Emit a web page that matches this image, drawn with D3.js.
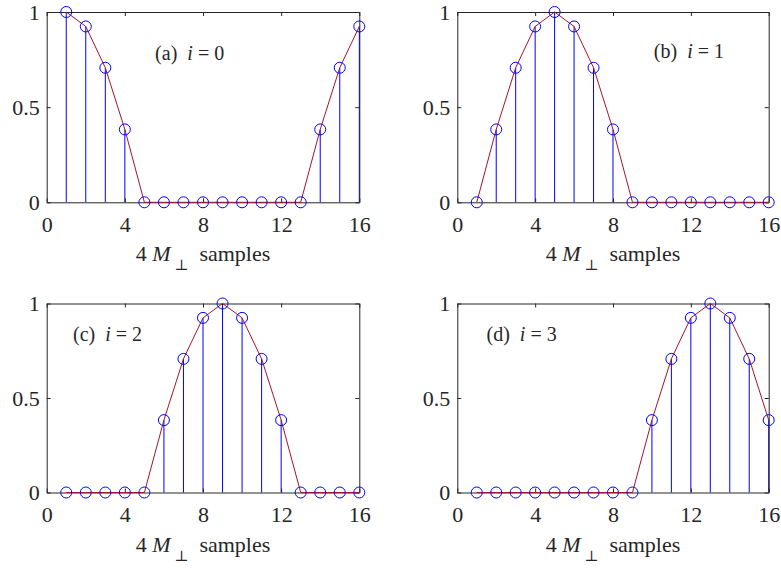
<!DOCTYPE html>
<html>
<head>
<meta charset="utf-8">
<script src="https://cdn.jsdelivr.net/npm/d3@7"></script>
<style>
  body { margin: 0; background: #fff; }
</style>
</head>
<body>
<div id="vis"></div>
<script>
const FRAME_WIDTH = 781;
const FRAME_HEIGHT = 568;
const FONT = "'Liberation Serif', LiberationSerif, Tinos, 'Times New Roman', 'Noto Serif', 'DejaVu Serif', serif";

// sample index (x) and the four window weights (one per panel)
const samples = [1, 2, 3, 4, 5, 6, 7, 8, 9, 10, 11, 12, 13, 14, 15, 16];
const w0 = [1, 0.924, 0.707, 0.383, 0, 0, 0, 0, 0, 0, 0, 0, 0, 0.383, 0.707, 0.924];
const w1 = [0, 0.383, 0.707, 0.924, 1, 0.924, 0.707, 0.383, 0, 0, 0, 0, 0, 0, 0, 0];
const w2 = [0, 0, 0, 0, 0, 0.383, 0.707, 0.924, 1, 0.924, 0.707, 0.383, 0, 0, 0, 0];
const w3 = [0, 0, 0, 0, 0, 0, 0, 0, 0, 0.383, 0.707, 0.924, 1, 0.924, 0.707, 0.383];

const xTicks = [0, 4, 8, 12, 16];
const yTicks = [0, 0.5, 1];
const yTickLabels = ["0", "0.5", "1"];
const panelTags = ["(a)", "(b)", "(c)", "(d)"];
const panelIdx = ["0", "1", "2", "3"];

// panel boxes and annotation anchors (data coords)
const PANELS = [
  {w: w0, left: 46.7, top: 12,    width: 312.6, height: 190.3, ann: [5.55, 0.75]},
  {w: w1, left: 457.3, top: 12,   width: 311.4, height: 190.3, ann: [10.1, 0.76]},
  {w: w2, left: 46.7, top: 303.5, width: 312.6, height: 189,   ann: [1.35, 0.80]},
  {w: w3, left: 457.3, top: 303.5, width: 311.4, height: 189,  ann: [1.5, 0.80]}
];

const AXIS_COLOR = "#262626";
const STEM_COLOR = "#0000ff";
const LINE_COLOR = "#a2142f";

const FRAME1 = d3.select("#vis")
  .append("svg")
    .attr("width", FRAME_WIDTH)
    .attr("height", FRAME_HEIGHT)
    .attr("font-family", FONT);

PANELS.forEach((p, k) => {
  const X_SCALE = d3.scaleLinear().domain([0, 16]).range([0, p.width]);
  const Y_SCALE = d3.scaleLinear().domain([0, 1]).range([p.height, 0]);
  const data = samples.map((s, i) => ({x: s, y: p.w[i]}));

  const g = FRAME1.append("g")
    .attr("transform", "translate(" + p.left + "," + p.top + ")");

  // stems (zero values draw nothing)
  g.selectAll(".stem")
    .data(data.filter(d => d.y > 0))
    .enter()
    .append("line")
      .attr("x1", d => X_SCALE(d.x))
      .attr("x2", d => X_SCALE(d.x))
      .attr("y1", Y_SCALE(0))
      .attr("y2", d => Y_SCALE(d.y))
      .attr("stroke", STEM_COLOR)
      .attr("stroke-width", 1);

  // axes: bottom/left with labels, top/right mirrored, ticks inside
  const tickLen = 4;
  g.append("g")
    .attr("transform", "translate(0," + p.height + ")")
    .call(d3.axisBottom(X_SCALE).tickValues(xTicks).tickSizeInner(-tickLen).tickSizeOuter(0).tickPadding(14));
  g.append("g")
    .call(d3.axisTop(X_SCALE).tickValues(xTicks).tickSizeInner(-tickLen).tickSizeOuter(0).tickFormat(""));
  g.append("g")
    .call(d3.axisLeft(Y_SCALE).tickValues(yTicks).tickSizeInner(-tickLen).tickSizeOuter(0).tickPadding(7)
      .tickFormat((d, i) => yTickLabels[i]));
  g.append("g")
    .attr("transform", "translate(" + p.width + ",0)")
    .call(d3.axisRight(Y_SCALE).tickValues(yTicks).tickSizeInner(-tickLen).tickSizeOuter(0).tickFormat(""));
  g.selectAll("g").attr("font-family", null).attr("font-size", null);
  g.selectAll(".tick text").attr("font-size", "22px").attr("fill", AXIS_COLOR);
  g.selectAll(".domain, .tick line").attr("stroke", AXIS_COLOR);

  // envelope line
  g.append("path")
    .datum(data)
    .attr("fill", "none")
    .attr("stroke", LINE_COLOR)
    .attr("stroke-width", 1)
    .attr("d", d3.line().x(d => X_SCALE(d.x)).y(d => Y_SCALE(d.y)));

  // circle markers
  g.selectAll(".pt")
    .data(data)
    .enter()
    .append("circle")
      .attr("cx", d => X_SCALE(d.x))
      .attr("cy", d => Y_SCALE(d.y))
      .attr("r", 5.5)
      .attr("fill", "none")
      .attr("stroke", STEM_COLOR)
      .attr("stroke-width", 1);

  // panel annotation
  const ann = g.append("text")
    .attr("x", X_SCALE(p.ann[0]))
    .attr("y", Y_SCALE(p.ann[1]))
    .attr("fill", AXIS_COLOR)
    .attr("font-size", "20px");
  ann.append("tspan").text(panelTags[k] + "\u00a0\u00a0");
  ann.append("tspan").attr("font-style", "italic").text("i");
  ann.append("tspan").text(" = " + panelIdx[k]);

  // x label
  const lab = g.append("text")
    .attr("x", p.width / 2)
    .attr("y", p.height + 59)
    .attr("text-anchor", "middle")
    .attr("fill", AXIS_COLOR)
    .attr("font-size", "22px");
  lab.append("tspan").text("4 ");
  lab.append("tspan").attr("font-style", "italic").text("M");
  lab.append("tspan").attr("font-size", "15px").attr("dy", 9).text("\u00a0\u22a5");
  lab.append("tspan").attr("dy", -9).text("\u00a0\u00a0samples");
});
</script>
</body>
</html>
